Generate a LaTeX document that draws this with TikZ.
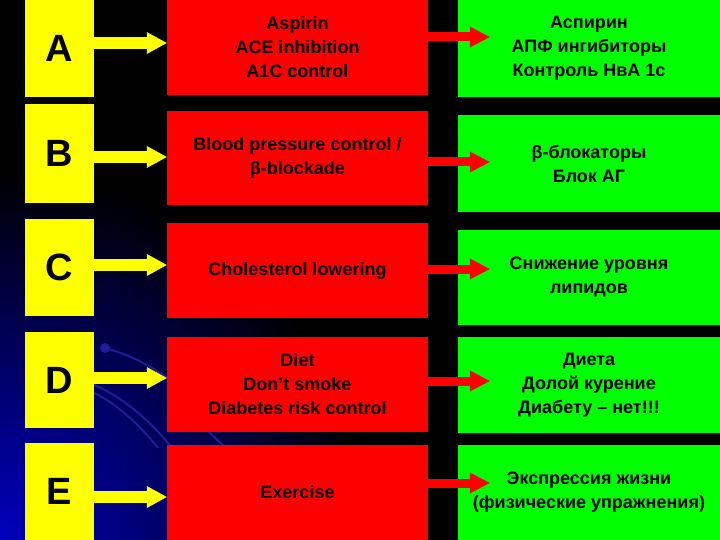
\documentclass[tikz,border=0pt]{standalone}
\usepackage{fontspec}
\setmainfont{Liberation Sans}
\usetikzlibrary{arrows.meta}
\definecolor{slideyellow}{RGB}{255,255,0}
\definecolor{slidered}{RGB}{255,0,0}
\definecolor{slidegreen}{RGB}{0,255,0}
\definecolor{glowblue}{RGB}{0,0,190}
\definecolor{swirlblue}{RGB}{30,30,150}

\begin{document}
\begin{tikzpicture}[x=1pt, y=-1pt,
  letterbox/.style={rectangle, fill=slideyellow, minimum width=69pt, inner sep=0pt, font=\fontsize{38}{40}\selectfont\bfseries},
  redbox/.style={rectangle, fill=slidered, minimum width=261pt, inner sep=0pt, align=center, font=\fontsize{18}{24}\selectfont\bfseries},
  greenbox/.style={rectangle, fill=slidegreen, minimum width=262pt, inner sep=0pt, align=center, font=\fontsize{18}{24}\selectfont\bfseries},
  yarrow/.style={draw=slideyellow, line width=12pt, -{Triangle[width=22pt, length=20pt, line width=0pt]}},
  rarrow/.style={draw=slidered, line width=9pt, -{Triangle[width=21pt, length=20pt, line width=0pt]}},
  swirl/.style={draw=swirlblue, line width=2pt},
  ]
 \useasboundingbox (0,0) rectangle (720,540);
 % background and glow
 \fill[black] (0,0) rectangle (720,540);
 \begin{scope}
  \clip (0,0) rectangle (720,540);
  \shade[inner color=glowblue, outer color=black] (0,540) circle [radius=370];
 \end{scope}
 \fill[swirlblue] (105,348) circle [radius=5];
 \draw[swirl] (105,348) .. controls (130,355) and (150,365) .. (170,380);
 \draw[swirl] (92,384) .. controls (120,395) and (150,420) .. (172,448);
 \draw[swirl] (92,392) .. controls (115,402) and (140,425) .. (158,448);
 \draw[swirl] (198,422) -- (226,448);

 % letters
 \node[letterbox, minimum height=97pt] (yA) at (59.5,48.5) {A};
 \node[letterbox, minimum height=99pt] (yB) at (59.5,153.5) {B};
 \node[letterbox, minimum height=97pt] (yC) at (59.5,267.5) {C};
 \node[letterbox, minimum height=96pt] (yD) at (59.5,380) {D};
 \node[letterbox, minimum height=97pt] (yE) at (59.5,491.5) {E};

 % english
 \node[redbox, minimum height=95pt] (rA) at (297.5,47.5) {Aspirin\\ACE inhibition\\A1C control};
 \node[redbox, minimum height=94pt] (rB) at (297.5,158) {Blood pressure control /\\β-blockade};
 \node[redbox, minimum height=95pt] (rC) at (297.5,270.5) {Cholesterol lowering};
 \node[redbox, minimum height=95pt] (rD) at (297.5,384.5) {Diet\\Don’t smoke\\Diabetes risk control};
 \node[redbox, minimum height=95pt] (rE) at (297.5,492.5) {Exercise};

 % russian
 \node[greenbox, minimum height=97pt] (gA) at (589,48.5) {Аспирин\\АПФ ингибиторы\\Контроль НвА 1с};
 \node[greenbox, minimum height=97pt] (gB) at (589,163.5) {β-блокаторы\\Блок АГ};
 \node[greenbox, minimum height=95pt] (gC) at (589,277.5) {Снижение уровня\\липидов};
 \node[greenbox, minimum height=96pt] (gD) at (589,385) {Диета\\Долой курение\\Диабету – нет!!!};
 \node[greenbox, minimum height=95pt] (gE) at (589,492.5) {Экспрессия жизни\\(физические упражнения)};

 % arrows
 \draw[yarrow] ([yshift=5.5pt]yA.east) -- ([yshift=4.5pt]rA.west);
 \draw[yarrow] ([yshift=-3.5pt]yB.east) -- ([yshift=1pt]rB.west);
 \draw[yarrow] ([yshift=2.5pt]yC.east) -- ([yshift=5.5pt]rC.west);
 \draw[yarrow] ([yshift=2pt]yD.east) -- ([yshift=6.5pt]rD.west);
 \draw[yarrow] ([yshift=-5.5pt]yE.east) -- ([yshift=-4.5pt]rE.west);

 \draw[rarrow] ([yshift=10.5pt]rA.east) -- ([xshift=32pt, yshift=11.5pt]gA.west);
 \draw[rarrow] ([yshift=-4pt]rB.east) -- ([xshift=32pt, yshift=1.5pt]gB.west);
 \draw[rarrow] ([yshift=1.5pt]rC.east) -- ([xshift=32pt, yshift=8.5pt]gC.west);
 \draw[rarrow] ([yshift=3.5pt]rD.east) -- ([xshift=32pt, yshift=4pt]gD.west);
 \draw[rarrow] ([yshift=9.5pt]rE.east) -- ([xshift=32pt, yshift=9.5pt]gE.west);
\end{tikzpicture}
\end{document}
